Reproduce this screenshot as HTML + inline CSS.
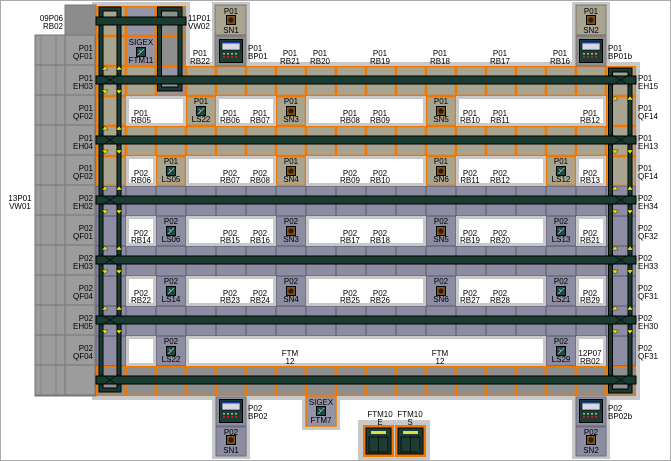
<!DOCTYPE html>
<html><head><meta charset="utf-8"><style>
html,body{margin:0;padding:0;background:#fff}
svg{display:block}
text{font-family:"Liberation Sans",sans-serif;font-size:8px;fill:#000}
</style></head><body>
<svg width="671" height="461" viewBox="0 0 671 461" xmlns="http://www.w3.org/2000/svg">
<defs>
<pattern id="tan" x="96" y="6" width="30" height="30" patternUnits="userSpaceOnUse"><rect width="30" height="30" fill="#f07800"/><rect x="1.3" y="1.3" width="27.4" height="27.4" fill="#a8a490"/></pattern>
<pattern id="blu" x="96" y="6" width="30" height="30" patternUnits="userSpaceOnUse"><rect width="30" height="30" fill="#6c6c7c"/><rect x="0.8" y="0.8" width="28.4" height="28.4" fill="#8c8ca2"/></pattern>
<pattern id="gro" x="96" y="6" width="30" height="30" patternUnits="userSpaceOnUse"><rect width="30" height="30" fill="#f07800"/><rect x="1.3" y="1.3" width="27.4" height="27.4" fill="#8e8e8e"/></pattern>
<pattern id="pur" x="96" y="6" width="30" height="30" patternUnits="userSpaceOnUse"><rect width="30" height="30" fill="#f07800"/><rect x="1.3" y="1.3" width="27.4" height="27.4" fill="#9494a6"/></pattern>
<pattern id="lg" x="35" y="5" width="30" height="30" patternUnits="userSpaceOnUse"><rect width="30" height="30" fill="#7a7a7a"/><rect x="0.6" y="0.6" width="28.8" height="28.8" fill="#9c9c9c"/></pattern>
<symbol id="sn" viewBox="0 0 10 10"><rect x="0.5" y="0.5" width="9" height="9" fill="#6c5c14" stroke="#000"/><circle cx="5" cy="5" r="2.6" fill="#4a0c0c"/></symbol>
<symbol id="ls" viewBox="0 0 10 10"><rect x="0.5" y="0.5" width="9" height="9" fill="#1c4a40" stroke="#000"/><path d="M2 8 L8 2 M5 5 L3 3" stroke="#9cc" stroke-width="0.8"/></symbol>
<symbol id="bp" viewBox="0 0 24 24"><rect x="0.5" y="0.5" width="23" height="23" fill="#1c3c34" stroke="#000"/><rect x="3" y="3" width="18" height="8" fill="#d8d8e4" stroke="#000" stroke-width="0.6"/><rect x="3" y="3" width="18" height="1.5" fill="#2040a0"/><g fill="#8c8"><rect x="4" y="14" width="2" height="1.5"/><rect x="8" y="14" width="2" height="1.5"/><rect x="12" y="14" width="2" height="1.5"/><rect x="16" y="14" width="2" height="1.5"/></g><g fill="#c22"><rect x="4" y="17" width="2" height="1.5"/><rect x="8" y="17" width="2" height="1.5"/><rect x="12" y="17" width="2" height="1.5"/><rect x="16" y="17" width="2" height="1.5"/></g></symbol>
</defs>
<rect x="0.5" y="0.5" width="670" height="460" fill="#fff" stroke="#aaa"/>

<!-- light frames -->
<g fill="#c8c8c8">
<rect x="92" y="62" width="548" height="338"/>
<rect x="92" y="2" width="98" height="66"/>
<rect x="212" y="2" width="38" height="66"/>
<rect x="572" y="2" width="38" height="66"/>
<rect x="212" y="394" width="38" height="65"/>
<rect x="302" y="394" width="38" height="36"/>
<rect x="358" y="420" width="72" height="40"/>
<rect x="572" y="394" width="38" height="65"/>
</g>

<!-- left gray areas -->
<rect x="35" y="35" width="61" height="361" fill="url(#lg)" stroke="#777"/>
<line x1="41" y1="35" x2="41" y2="396" stroke="#777" stroke-width="0.6"/>
<line x1="56" y1="35" x2="56" y2="396" stroke="#777" stroke-width="0.6"/>
<rect x="65" y="5" width="31" height="30" fill="#8c8c8c" stroke="#777"/>

<!-- cells -->
<rect x="96" y="6" width="90" height="60" fill="url(#tan)"/>
<rect x="126" y="6" width="30" height="60" fill="url(#pur)"/>
<rect x="156" y="6" width="30" height="60" fill="url(#gro)"/>
<rect x="96" y="66" width="540" height="120" fill="url(#tan)"/>
<rect x="156" y="66" width="30" height="30" fill="url(#pur)"/>
<rect x="96" y="186" width="540" height="180" fill="url(#blu)"/>
<rect x="96" y="366" width="540" height="30" fill="url(#gro)"/>

<!-- top/bottom device boxes -->
<rect x="215" y="5" width="31" height="30" fill="#a8a490" stroke="#777"/>
<rect x="215" y="36" width="31" height="30" fill="#8e8e8e" stroke="#777"/>
<rect x="576" y="5" width="30" height="30" fill="#a8a490" stroke="#777"/>
<rect x="576" y="36" width="30" height="30" fill="#8e8e8e" stroke="#777"/>
<rect x="216" y="397" width="30" height="29" fill="#8c8ca2" stroke="#6c6c7c"/>
<rect x="216" y="427" width="30" height="29" fill="#8c8ca2" stroke="#6c6c7c"/>
<rect x="576" y="397" width="30" height="29" fill="#8c8ca2" stroke="#6c6c7c"/>
<rect x="576" y="427" width="30" height="29" fill="#8c8ca2" stroke="#6c6c7c"/>
<rect x="306" y="396" width="30" height="30" fill="#9494a6" stroke="#f07800" stroke-width="1.5"/>
<rect x="363" y="425" width="31" height="32" fill="#f07800"/>
<rect x="395" y="425" width="31" height="32" fill="#f07800"/>
<rect x="366" y="428" width="25" height="26" fill="#1c3c34" stroke="#000"/>
<rect x="398" y="428" width="25" height="26" fill="#1c3c34" stroke="#000"/>
<g stroke="#000" stroke-width="0.7" fill="none"><rect x="369" y="437" width="19" height="15"/><line x1="378.5" y1="437" x2="378.5" y2="452"/><rect x="401" y="437" width="19" height="15"/><line x1="410.5" y1="437" x2="410.5" y2="452"/></g>
<g fill="#dd4"><rect x="371" y="431" width="15" height="3"/><rect x="403" y="431" width="15" height="3"/></g>

<!-- white boxes -->
<g fill="#c8c8c8">
<rect x="126" y="96" width="60" height="30"/><rect x="216" y="96" width="60" height="30"/><rect x="306" y="96" width="120" height="30"/><rect x="456" y="96" width="150" height="30"/>
<rect x="126" y="156" width="30" height="30"/><rect x="186" y="156" width="90" height="30"/><rect x="306" y="156" width="120" height="30"/><rect x="456" y="156" width="90" height="30"/><rect x="576" y="156" width="30" height="30"/>
<rect x="126" y="216" width="30" height="30"/><rect x="186" y="216" width="90" height="30"/><rect x="306" y="216" width="120" height="30"/><rect x="456" y="216" width="90" height="30"/><rect x="576" y="216" width="30" height="30"/>
<rect x="126" y="276" width="30" height="30"/><rect x="186" y="276" width="90" height="30"/><rect x="306" y="276" width="120" height="30"/><rect x="456" y="276" width="90" height="30"/><rect x="576" y="276" width="30" height="30"/>
<rect x="126" y="336" width="30" height="30"/><rect x="186" y="336" width="360" height="30"/><rect x="576" y="336" width="30" height="30"/>
</g>
<g fill="#fff">
<rect x="129" y="99" width="54" height="24"/><rect x="219" y="99" width="54" height="24"/><rect x="309" y="99" width="114" height="24"/><rect x="459" y="99" width="144" height="24"/>
<rect x="129" y="159" width="24" height="24"/><rect x="189" y="159" width="84" height="24"/><rect x="309" y="159" width="114" height="24"/><rect x="459" y="159" width="84" height="24"/><rect x="579" y="159" width="24" height="24"/>
<rect x="129" y="219" width="24" height="24"/><rect x="189" y="219" width="84" height="24"/><rect x="309" y="219" width="114" height="24"/><rect x="459" y="219" width="84" height="24"/><rect x="579" y="219" width="24" height="24"/>
<rect x="129" y="279" width="24" height="24"/><rect x="189" y="279" width="84" height="24"/><rect x="309" y="279" width="114" height="24"/><rect x="459" y="279" width="84" height="24"/><rect x="579" y="279" width="24" height="24"/>
<rect x="129" y="339" width="24" height="24"/><rect x="189" y="339" width="354" height="24"/><rect x="579" y="339" width="24" height="24"/>
</g>

<!-- rails -->
<g fill="none">
<g stroke="#000" stroke-width="5"><rect x="101" y="9" width="18" height="381"/><rect x="159.5" y="9" width="20.5" height="80"/><rect x="610.5" y="70" width="19.5" height="321"/></g>
<g stroke="#1a3c30" stroke-width="3"><rect x="101" y="9" width="18" height="381"/><rect x="159.5" y="9" width="20.5" height="80"/><rect x="610.5" y="70" width="19.5" height="321"/></g>
</g>
<!-- horizontal bars -->
<g fill="#1a3c30" stroke="#000" stroke-width="1">
<rect x="96" y="17" width="90" height="8"/>
<rect x="96" y="76" width="540" height="8"/>
<rect x="96" y="136" width="540" height="8"/>
<rect x="96" y="196" width="540" height="8"/>
<rect x="96" y="256" width="540" height="8"/>
<rect x="96" y="316" width="540" height="8"/>
<rect x="96" y="376" width="540" height="8"/>
</g>
<g stroke="#000" stroke-width="0.6">
<path d="M101 74 L119 86 M101 86 L119 74 M101 134 L119 146 M101 146 L119 134 M101 194 L119 206 M101 206 L119 194 M101 254 L119 266 M101 266 L119 254 M101 314 L119 326 M101 326 L119 314 M101 374 L119 386 M101 386 L119 374"/>
<path d="M611 74 L630 86 M611 86 L630 74 M611 134 L630 146 M611 146 L630 134 M611 194 L630 206 M611 206 L630 194 M611 254 L630 266 M611 266 L630 254 M611 314 L630 326 M611 326 L630 314 M611 374 L630 386 M611 386 L630 374"/>
</g>
<!-- a few yellow markers -->
<g fill="#ee0" stroke="#000" stroke-width="0.4">
<path d="M102 70 l3 -4 l3 4z M116 70 l3 -4 l3 4z M102 90 l3 4 l3 -4z M116 90 l3 4 l3 -4z M102 130 l3 -4 l3 4z M116 130 l3 -4 l3 4z M102 150 l3 4 l3 -4z M116 150 l3 4 l3 -4z"/>
<path d="M102 190 l3 -4 l3 4z M116 190 l3 -4 l3 4z M102 210 l3 4 l3 -4z M116 210 l3 4 l3 -4z M102 250 l3 -4 l3 4z M116 250 l3 -4 l3 4z M102 270 l3 4 l3 -4z M116 270 l3 4 l3 -4z M102 310 l3 -4 l3 4z M116 310 l3 -4 l3 4z M102 330 l3 4 l3 -4z M116 330 l3 4 l3 -4z"/>
<path d="M612 100 l3 -4 l3 4z M627 100 l3 -4 l3 4z M612 150 l3 4 l3 -4z M627 150 l3 4 l3 -4z M612 190 l3 -4 l3 4z M627 190 l3 -4 l3 4z M612 210 l3 4 l3 -4z M627 210 l3 4 l3 -4z M612 250 l3 -4 l3 4z M627 250 l3 -4 l3 4z M612 270 l3 4 l3 -4z M627 270 l3 4 l3 -4z M612 310 l3 -4 l3 4z M627 310 l3 -4 l3 4z M612 330 l3 4 l3 -4z M627 330 l3 4 l3 -4z"/>
</g>

<!-- icons -->
<use href="#sn" x="226" y="15" width="10" height="10"/>
<use href="#sn" x="586" y="15" width="10" height="10"/>
<use href="#bp" x="219" y="39" width="24" height="24"/>
<use href="#bp" x="579" y="39" width="24" height="24"/>
<use href="#bp" x="219" y="399" width="24" height="24"/>
<use href="#bp" x="579" y="399" width="24" height="24"/>
<use href="#sn" x="226" y="435" width="10" height="10"/>
<use href="#sn" x="586" y="435" width="10" height="10"/>
<use href="#ls" x="136" y="47" width="10" height="10"/>
<use href="#ls" x="316" y="406" width="10" height="10"/>
<use href="#ls" x="196" y="106" width="10" height="10"/><use href="#sn" x="286" y="106" width="10" height="10"/><use href="#sn" x="436" y="106" width="10" height="10"/>
<use href="#ls" x="166" y="166" width="10" height="10"/><use href="#sn" x="286" y="166" width="10" height="10"/><use href="#sn" x="436" y="166" width="10" height="10"/><use href="#ls" x="556" y="166" width="10" height="10"/>
<use href="#ls" x="166" y="226" width="10" height="10"/><use href="#sn" x="286" y="226" width="10" height="10"/><use href="#sn" x="436" y="226" width="10" height="10"/><use href="#ls" x="556" y="226" width="10" height="10"/>
<use href="#ls" x="166" y="286" width="10" height="10"/><use href="#sn" x="286" y="286" width="10" height="10"/><use href="#sn" x="436" y="286" width="10" height="10"/><use href="#ls" x="556" y="286" width="10" height="10"/>
<use href="#ls" x="166" y="346" width="10" height="10"/><use href="#ls" x="556" y="346" width="10" height="10"/>

<!-- labels -->
<g text-anchor="middle">
<text x="231" y="14">P01</text><text x="231" y="33">SN1</text>
<text x="591" y="14">P01</text><text x="591" y="33">SN2</text>
<text x="141" y="45">SIGEX</text><text x="141" y="63">FTM11</text>
<text x="321" y="405">SIGEX</text><text x="321" y="423">FTM7</text>
<text x="231" y="435">P02</text><text x="231" y="453">SN1</text>
<text x="591" y="435">P02</text><text x="591" y="453">SN2</text>
<text x="380" y="417">FTM10</text><text x="380" y="425">E</text>
<text x="410" y="417">FTM10</text><text x="410" y="425">S</text>
<text x="20" y="201">13P01</text><text x="20" y="209">VW01</text>
<text x="200" y="56">P01</text><text x="200" y="64">RB22</text>
<text x="290" y="56">P01</text><text x="290" y="64">RB21</text>
<text x="320" y="56">P01</text><text x="320" y="64">RB20</text>
<text x="380" y="56">P01</text><text x="380" y="64">RB19</text>
<text x="440" y="56">P01</text><text x="440" y="64">RB18</text>
<text x="500" y="56">P01</text><text x="500" y="64">RB17</text>
<text x="560" y="56">P01</text><text x="560" y="64">RB16</text>
<!-- row 96 -->
<text x="201" y="104">P01</text><text x="201" y="122">LS22</text>
<text x="291" y="104">P01</text><text x="291" y="122">SN3</text>
<text x="441" y="104">P01</text><text x="441" y="122">SN5</text>
<text x="141" y="116">P01</text><text x="141" y="123">RB05</text>
<text x="230" y="116">P01</text><text x="230" y="123">RB06</text>
<text x="260" y="116">P01</text><text x="260" y="123">RB07</text>
<text x="350" y="116">P01</text><text x="350" y="123">RB08</text>
<text x="380" y="116">P01</text><text x="380" y="123">RB09</text>
<text x="470" y="116">P01</text><text x="470" y="123">RB10</text>
<text x="500" y="116">P01</text><text x="500" y="123">RB11</text>
<text x="590" y="116">P01</text><text x="590" y="123">RB12</text>
<!-- row 156 -->
<text x="171" y="164">P01</text><text x="171" y="182">LS05</text>
<text x="291" y="164">P01</text><text x="291" y="182">SN4</text>
<text x="441" y="164">P01</text><text x="441" y="182">SN6</text>
<text x="561" y="164">P01</text><text x="561" y="182">LS12</text>
<text x="141" y="176">P02</text><text x="141" y="183">RB06</text>
<text x="230" y="176">P02</text><text x="230" y="183">RB07</text>
<text x="260" y="176">P02</text><text x="260" y="183">RB08</text>
<text x="350" y="176">P02</text><text x="350" y="183">RB09</text>
<text x="380" y="176">P02</text><text x="380" y="183">RB10</text>
<text x="470" y="176">P02</text><text x="470" y="183">RB11</text>
<text x="500" y="176">P02</text><text x="500" y="183">RB12</text>
<text x="590" y="176">P02</text><text x="590" y="183">RB13</text>
<!-- row 216 -->
<text x="171" y="224">P02</text><text x="171" y="242">LS06</text>
<text x="291" y="224">P02</text><text x="291" y="242">SN3</text>
<text x="441" y="224">P02</text><text x="441" y="242">SN5</text>
<text x="561" y="224">P02</text><text x="561" y="242">LS13</text>
<text x="141" y="236">P02</text><text x="141" y="243">RB14</text>
<text x="230" y="236">P02</text><text x="230" y="243">RB15</text>
<text x="260" y="236">P02</text><text x="260" y="243">RB16</text>
<text x="350" y="236">P02</text><text x="350" y="243">RB17</text>
<text x="380" y="236">P02</text><text x="380" y="243">RB18</text>
<text x="470" y="236">P02</text><text x="470" y="243">RB19</text>
<text x="500" y="236">P02</text><text x="500" y="243">RB20</text>
<text x="590" y="236">P02</text><text x="590" y="243">RB21</text>
<!-- row 276 -->
<text x="171" y="284">P02</text><text x="171" y="302">LS14</text>
<text x="291" y="284">P02</text><text x="291" y="302">SN4</text>
<text x="441" y="284">P02</text><text x="441" y="302">SN6</text>
<text x="561" y="284">P02</text><text x="561" y="302">LS21</text>
<text x="141" y="296">P02</text><text x="141" y="303">RB22</text>
<text x="230" y="296">P02</text><text x="230" y="303">RB23</text>
<text x="260" y="296">P02</text><text x="260" y="303">RB24</text>
<text x="350" y="296">P02</text><text x="350" y="303">RB25</text>
<text x="380" y="296">P02</text><text x="380" y="303">RB26</text>
<text x="470" y="296">P02</text><text x="470" y="303">RB27</text>
<text x="500" y="296">P02</text><text x="500" y="303">RB28</text>
<text x="590" y="296">P02</text><text x="590" y="303">RB29</text>
<!-- row 336 -->
<text x="171" y="344">P02</text><text x="171" y="362">LS22</text>
<text x="561" y="344">P02</text><text x="561" y="362">LS29</text>
<text x="290" y="356">FTM</text><text x="290" y="364">12</text>
<text x="440" y="356">FTM</text><text x="440" y="364">12</text>
<text x="590" y="356">12P07</text><text x="590" y="364">RB02</text>
</g>
<g text-anchor="end">
<text x="63" y="21">09P06</text><text x="63" y="29">RB02</text>
<text x="93" y="51">P01</text><text x="93" y="59">QF01</text>
<text x="93" y="81">P01</text><text x="93" y="89">EH03</text>
<text x="93" y="111">P01</text><text x="93" y="119">QF02</text>
<text x="93" y="141">P01</text><text x="93" y="149">EH04</text>
<text x="93" y="171">P01</text><text x="93" y="179">QF02</text>
<text x="93" y="201">P02</text><text x="93" y="209">EH02</text>
<text x="93" y="231">P02</text><text x="93" y="239">QF01</text>
<text x="93" y="261">P02</text><text x="93" y="269">EH03</text>
<text x="93" y="291">P02</text><text x="93" y="299">QF04</text>
<text x="93" y="321">P02</text><text x="93" y="329">EH05</text>
<text x="93" y="351">P02</text><text x="93" y="359">QF04</text>
</g>
<g>
<text x="188" y="21">11P01</text><text x="188" y="29">VW02</text>
<text x="248" y="51">P01</text><text x="248" y="59">BP01</text>
<text x="608" y="51">P01</text><text x="608" y="59">BP01b</text>
<text x="248" y="411">P02</text><text x="248" y="419">BP02</text>
<text x="608" y="411">P02</text><text x="608" y="419">BP02b</text>
<text x="638" y="81">P01</text><text x="638" y="89">EH15</text>
<text x="638" y="111">P01</text><text x="638" y="119">QF14</text>
<text x="638" y="141">P01</text><text x="638" y="149">EH13</text>
<text x="638" y="171">P01</text><text x="638" y="179">QF14</text>
<text x="638" y="201">P02</text><text x="638" y="209">EH34</text>
<text x="638" y="231">P02</text><text x="638" y="239">QF32</text>
<text x="638" y="261">P02</text><text x="638" y="269">EH33</text>
<text x="638" y="291">P02</text><text x="638" y="299">QF31</text>
<text x="638" y="321">P02</text><text x="638" y="329">EH30</text>
<text x="638" y="351">P02</text><text x="638" y="359">QF31</text>
</g>
</svg>
</body></html>
